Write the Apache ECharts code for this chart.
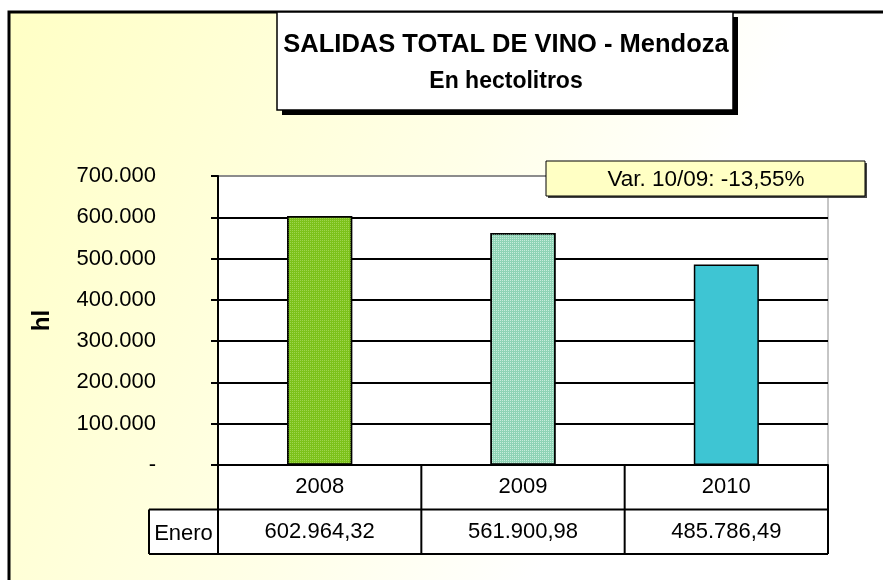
<!DOCTYPE html>
<html>
<head>
<meta charset="utf-8">
<title>Salidas total de vino - Mendoza</title>
<script src="https://cdn.jsdelivr.net/npm/echarts@6/dist/echarts.min.js"></script>
<style>
  html, body { margin: 0; padding: 0; background: #fff; }
  #chart { width: 883px; height: 580px; }
</style>
</head>
<body>
<div id="chart"></div>
<script>
const years = ['2008', '2009', '2010']
const rowLabel = 'Enero'
const salidas = [602964.32, 561900.98, 485786.49]
const yMin = 0
const yMax = 700000
const yStep = 100000

const titleLines = ['SALIDAS TOTAL DE VINO - Mendoza', 'En hectolitros']
const unitName = 'hl'

const barColors = ['#7cc21a', '#8ed3b5', '#3ec5d3']
const barDots = ['#9ed44e', '#c8ecdc', null]

const font = 'Liberation Sans, Arial, sans-serif'

// plot area in pixels
const gLeft = 218
const gRight = 828
const gTop = 176
const gBottom = 465
const rowH = 44.5
const rowLabelLeft = 149

// es-AR style number: 602.964,32
function fmt(v, dec) {
  const parts = v.toFixed(dec).split('.')
  parts[0] = parts[0].replace(/\B(?=(\d{3})+(?!\d))/g, '.')
  return parts.join(',')
}

const variacion = (salidas[2] / salidas[1] - 1) * 100
const varText = 'Var. ' + years[2].slice(2) + '/' + years[1].slice(2) + ': ' + fmt(variacion, 2)  + '%'

const chart = echarts.init(document.getElementById('chart'))

// data table under the axis: white cells + black rules
const tableParts = [
  { type: 'rect', z: 40, shape: { x: gLeft, y: gBottom, width: gRight - gLeft, height: 2 * rowH }, style: { fill: '#fff' } },
  { type: 'rect', z: 40, shape: { x: rowLabelLeft, y: gBottom + rowH, width: gLeft - rowLabelLeft, height: rowH }, style: { fill: '#fff' } }
]
const lineStyle = { stroke: '#000', lineWidth: 2 }
for (let r = 1; r <= 2; r++) {
  const y = gBottom + r * rowH
  tableParts.push({ type: 'line', z: 50, shape: { x1: rowLabelLeft, y1: y, x2: gRight, y2: y }, style: lineStyle })
}
for (let i = 0; i <= years.length; i++) {
  const x = gLeft + i * (gRight - gLeft) / years.length
  tableParts.push({ type: 'line', z: 50, shape: { x1: x, y1: gBottom, x2: x, y2: gBottom + 2 * rowH }, style: lineStyle })
}
tableParts.push({ type: 'line', z: 50, shape: { x1: rowLabelLeft, y1: gBottom + rowH, x2: rowLabelLeft, y2: gBottom + 2 * rowH }, style: lineStyle })

const splitColors = []
for (let v = yMin; v <= yMax; v += yStep) {
  splitColors.push(v === yMax ? '#8c8c8c' : '#000')
}

function barItem(v, i) {
  const style = { color: barColors[i] }
  if (barDots[i]) {
    style.decal = {
      symbol: 'rect',
      symbolSize: 1,
      dashArrayX: [1, 1],
      dashArrayY: [1, 1],
      color: barDots[i]
    }
  }
  return { value: v, itemStyle: style }
}

chart.setOption({
  backgroundColor: '#fff',
  animation: false,
  grid: {
    left: gLeft,
    right: 883 - gRight,
    top: gTop,
    bottom: 580 - gBottom,
    show: true,
    backgroundColor: '#fff',
    borderColor: '#8c8c8c',
    borderWidth: 1
  },
  xAxis: [{
    type: 'category',
    data: years,
    z: 60,
    axisLine: { lineStyle: { color: '#000', width: 2 } },
    axisTick: { show: false },
    axisLabel: { margin: 11, fontFamily: font, fontSize: 22, color: '#000' }
  }, {
    type: 'category',
    data: years,
    position: 'bottom',
    offset: rowH,
    z: 60,
    axisLine: { show: false },
    axisTick: { show: false },
    axisLabel: {
      margin: 11,
      fontFamily: font,
      fontSize: 22,
      color: '#000',
      formatter: (v, i) => fmt(salidas[i], 2)
    }
  }],
  yAxis: {
    type: 'value',
    min: yMin,
    max: yMax,
    interval: yStep,
    name: unitName,
    nameLocation: 'middle',
    nameGap: 164,
    nameTextStyle: { fontFamily: font, fontSize: 24, fontWeight: 'bold', color: '#000' },
    axisLine: { show: true, lineStyle: { color: '#000', width: 2 } },
    axisTick: { show: true, length: 7, lineStyle: { color: '#000', width: 2 } },
    axisLabel: {
      margin: 62,
      fontFamily: font,
      fontSize: 22,
      color: '#000',
      formatter: v => (v === 0 ? '-' : fmt(v, 0))
    },
    splitLine: { show: true, lineStyle: { color: splitColors, width: 2 } }
  },
  series: [{
    type: 'bar',
    barWidth: '32%',
    xAxisIndex: 0,
    data: salidas.map(barItem),
    itemStyle: { borderColor: '#000', borderWidth: 1.5 }
  }],
  graphic: [
    {
      type: 'rect',
      z: -1,
      silent: true,
      shape: { x: 9, y: 12, width: 1000, height: 1000 },
      style: {
        fill: new echarts.graphic.LinearGradient(0, 0, 883, 420, [
          { offset: 0, color: '#ffffc4' },
          { offset: 0.5, color: '#ffffe8' },
          { offset: 0.75, color: '#ffffff' }
        ], true),
        stroke: '#000',
        lineWidth: 3
      }
    },
    {
      type: 'rect',
      z: 100,
      shape: { x: 282, y: 17, width: 456, height: 98 },
      style: { fill: '#000' }
    },
    {
      type: 'rect',
      z: 101,
      shape: { x: 277, y: 12, width: 456, height: 98 },
      style: { fill: '#fff', stroke: '#000', lineWidth: 1.5 }
    },
    {
      type: 'text',
      z: 102,
      x: 506,
      y: 45,
      style: {
        text: titleLines[0], fill: '#000', font: 'bold 25.5px ' + font,
        textAlign: 'center', textVerticalAlign: 'middle'
      }
    },
    {
      type: 'text',
      z: 102,
      x: 506,
      y: 82,
      style: {
        text: titleLines[1], fill: '#000', font: 'bold 23px ' + font,
        textAlign: 'center', textVerticalAlign: 'middle'
      }
    },
    {
      type: 'rect',
      z: 100,
      shape: { x: 548, y: 163, width: 319, height: 35 },
      style: { fill: '#444' }
    },
    {
      type: 'rect',
      z: 101,
      shape: { x: 546, y: 161, width: 319, height: 35 },
      style: { fill: '#ffffc4', stroke: '#000', lineWidth: 1 }
    },
    {
      type: 'text',
      z: 102,
      x: 706,
      y: 180,
      style: {
        text: varText, fill: '#000', font: '22.5px ' + font,
        textAlign: 'center', textVerticalAlign: 'middle'
      }
    },
    {
      type: 'text',
      z: 102,
      x: (rowLabelLeft + gLeft) / 2,
      y: gBottom + 1.5 * rowH + 2,
      style: {
        text: rowLabel, fill: '#000', font: '22px ' + font,
        textAlign: 'center', textVerticalAlign: 'middle'
      }
    }
  ].concat(tableParts)
})
</script>
</body>
</html>
